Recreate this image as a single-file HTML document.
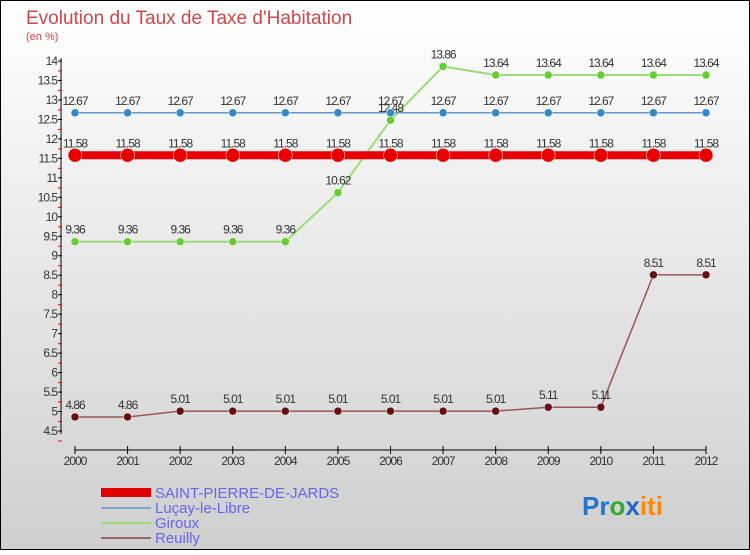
<!DOCTYPE html>
<html><head><meta charset="utf-8"><style>
html,body{margin:0;padding:0}
body{width:750px;height:550px;overflow:hidden;font-family:"Liberation Sans",sans-serif}
</style></head><body>
<svg width="750" height="550" xmlns="http://www.w3.org/2000/svg">
<defs>
<linearGradient id="bg" x1="0" y1="0" x2="0" y2="1"><stop offset="0" stop-color="#ffffff"/><stop offset="1" stop-color="#cfcfcf"/></linearGradient>
</defs>
<rect x="0.5" y="0.5" width="749" height="549" fill="url(#bg)" stroke="#000"/>
<text x="26" y="24" font-size="19" fill="#d0464a">Evolution du Taux de Taxe d'Habitation</text>
<text x="26" y="40" font-size="11" fill="#d0464a">(en %)</text>
<g id="axes"></g>
<g id="series"></g>
<g>
<rect x="101" y="488" width="50" height="9" fill="#e00000"/>
<text x="155" y="498" font-size="15" fill="#6666ee">SAINT-PIERRE-DE-JARDS</text>
<line x1="101" y1="508" x2="151" y2="508" stroke="#7aa8cc" stroke-width="2"/>
<text x="155" y="513" font-size="15" fill="#6666ee">Luçay-le-Libre</text>
<line x1="101" y1="523" x2="151" y2="523" stroke="#99dd77" stroke-width="2"/>
<text x="155" y="528" font-size="15" fill="#6666ee">Giroux</text>
<line x1="101" y1="538" x2="151" y2="538" stroke="#996666" stroke-width="2"/>
<text x="155" y="543" font-size="15" fill="#6666ee">Reuilly</text>
</g>
<g font-size="26" font-weight="bold">
<text x="582" y="515"><tspan fill="#2277cc">Pr</tspan><tspan fill="#33aa33">o</tspan><tspan fill="#2266cc">x</tspan><tspan fill="#ff8800">iti</tspan></text>
</g>
</svg>
<script>
const years=[2000,2001,2002,2003,2004,2005,2006,2007,2008,2009,2010,2011,2012];
const yTicks=[4.5,5,5.5,6,6.5,7,7.5,8,8.5,9,9.5,10,10.5,11,11.5,12,12.5,13,13.5,14];
const saint=[11.58,11.58,11.58,11.58,11.58,11.58,11.58,11.58,11.58,11.58,11.58,11.58,11.58];
const lucay=[12.67,12.67,12.67,12.67,12.67,12.67,12.67,12.67,12.67,12.67,12.67,12.67,12.67];
const giroux=[9.36,9.36,9.36,9.36,9.36,10.62,12.48,13.86,13.64,13.64,13.64,13.64,13.64];
const reuilly=[4.86,4.86,5.01,5.01,5.01,5.01,5.01,5.01,5.01,5.11,5.11,8.51,8.51];
const NS="http://www.w3.org/2000/svg";
const xS=i=>75+i*(706-75)/(years.length-1);
const yS=v=>431-(v-4.5)*(370/9.5);
function mk(tag,attrs,parent,txt){const e=document.createElementNS(NS,tag);for(const k in attrs)e.setAttribute(k,attrs[k]);if(txt!==undefined)e.textContent=txt;parent.appendChild(e);return e;}
const ax=document.getElementById('axes');
let a=mk('line',{x1:61,y1:58,x2:61,y2:434,stroke:'#000'},ax);


yTicks.forEach(v=>{const y=yS(v);
 mk('line',{x1:58,y1:y,x2:62,y2:y,stroke:'#000'},ax);
 mk('line',{x1:58,y1:y+10,x2:62,y2:y+10,stroke:'#e00'},ax);
 const t=mk('text',{x:57,y:y+4,'font-size':12,'text-anchor':'end',fill:'#333','letter-spacing':'-1'},ax,String(v));
 
 
});
a=mk('line',{x1:75,y1:450,x2:706,y2:450,stroke:'#000'},ax);


years.forEach((yr,i)=>{const x=xS(i);
 mk('line',{x1:x,y1:446,x2:x,y2:454,stroke:'#000'},ax);
 const t=mk('text',{x:x,y:465,'font-size':12,'text-anchor':'middle',fill:'#333','letter-spacing':'-1'},ax,String(yr));
 
 
});
const sg=document.getElementById('series');
function series(name,vals,color,dot,w,r){
 const g=mk('g',{},sg);
 
 
 mk('polyline',{points:vals.map((v,i)=>xS(i)+','+yS(v)).join(' '),fill:'none',stroke:color,'stroke-width':w},g);
 vals.forEach((v,i)=>{
  const c=mk('circle',{cx:xS(i),cy:yS(v),r:r,fill:dot,stroke:'#fff','stroke-width':0.5},g);
  
  
  const t=mk('text',{x:xS(i),y:yS(v)-8,'font-size':12,'text-anchor':'middle',fill:'#333','letter-spacing':'-1'},g,String(v));
  
  
 });
}
series('reuilly',reuilly,'#995555','#661111',1.5,4);
series('giroux',giroux,'#99dd77','#66cc33',2,4);
series('lucay',lucay,'#6699cc','#3388cc',1.5,4);
series('saint-pierre',saint,'#e80000','#e80000',8,7);
</script>
</body></html>
